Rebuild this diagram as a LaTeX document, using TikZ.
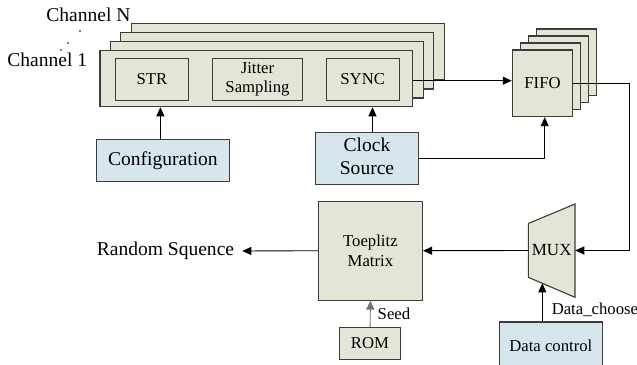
\documentclass[tikz,border=0pt]{standalone}
\usepackage{fontspec}
\setmainfont{Liberation Serif}
\usetikzlibrary{positioning,arrows.meta}
\definecolor{BlockFill}{HTML}{E3E6D6}
\definecolor{CtrlFill}{HTML}{D7E6EC}
\definecolor{EdgeGray}{HTML}{3C3C3C}

% large labels: the body size blown up
\newcommand{\bigtxt}[1]{\scalebox{1.17}{\begin{tabular}{@{}c@{}}#1\end{tabular}}}

\tikzset{
  blk/.style={draw=EdgeGray,line width=1.1pt,fill=BlockFill,inner sep=0pt,align=center,
    font=\fontsize{16.7pt}{19.5pt}\selectfont},
  ctrl/.style={blk,fill=CtrlFill},
  bigtext/.style={inner sep=0pt,font=\fontsize{16.7pt}{19.5pt}\selectfont},
  arr/.style={-{Triangle[length=9pt,width=8pt]},line width=0.9pt,black},
}

\begin{document}
\begin{tikzpicture}[x=1pt,y=-1pt]
  \useasboundingbox (0,0) rectangle (637,364);

  % channel stack, back copies first
  \foreach \k in {3,2,1}
    \node[blk,minimum width=313pt,minimum height=56.5pt] (ch\k) at ({256.3+10.5*\k},{78.7-9*\k}) {};
  \node[blk,minimum width=312.7pt,minimum height=56pt] (ch) at (256.3,78.7) {};
  \node[blk,fill=none,minimum width=72.6pt,minimum height=41.7pt] (str) at (152,79.2) {STR};
  \node[blk,fill=none,minimum width=89.6pt,minimum height=41.7pt] (jit) at (257.5,79.2) {Jitter\\Sampling};
  \node[blk,fill=none,minimum width=73.3pt,minimum height=41.7pt] (sync) at (362.7,79.2) {SYNC};

  \node[bigtext] (lblN) at (88.5,17) {\bigtxt{Channel N}};
  \node[bigtext] (lbl1) at (47.3,62) {\bigtxt{Channel 1}};
  \foreach \p in {(61,50),(68,43),(80,31)}
    \fill \p circle (0.8pt);

  % fifo stack
  \foreach \k in {3,2,1}
    \node[blk,minimum width=60.4pt,minimum height=66.7pt] (fifo\k) at ({542.5+8*\k},{83.3-7*\k}) {};
  \node[blk,minimum width=60.4pt,minimum height=66.7pt] (fifo) at (542.5,83.3) {FIFO};

  % control blocks
  \node[ctrl,minimum width=132.3pt,minimum height=42.4pt] (conf) at (162.9,160.5) {\bigtxt{Configuration}};
  \node[ctrl,minimum width=102.6pt,minimum height=52pt] (clk) at (367,158.3) {\bigtxt{Clock\\Source}};
  \node[ctrl,minimum width=103pt,minimum height=48pt] (dctl) at (550.8,346) {Data control};

  % lower path
  \node[blk,minimum width=104.2pt,minimum height=98.7pt] (toep) at (370.4,250.7) {Toeplitz\\Matrix};
  \node[blk,minimum width=61pt,minimum height=32pt] (rom) at (370,343.3) {ROM};
  \draw[draw=EdgeGray,line width=1.1pt,fill=BlockFill]
    (528.3,223.5) -- (575,204) -- (575,297.3) -- (528.3,277.3) -- cycle;
  \node[inner sep=0pt,minimum width=46.7pt,minimum height=54pt,font=\fontsize{17pt}{19.5pt}\selectfont] (mux) at (551.7,250.5) {MUX};
  \node[bigtext,anchor=east,inner xsep=8pt] (rs) at (242.3,251) {\bigtxt{Random Squence}};

  \coordinate (turn) at (629.3,83.3);
  \coordinate (muxin) at (542.3,283.3);

  % connections
  \draw[arr] ([yshift=-2pt]ch.east) -- ([yshift=-2pt]ch.east -| fifo.west);
  \draw[arr] ([xshift=-2.5pt]conf.north) -- ([xshift=-2.5pt]conf.north |- ch.south);
  \draw[arr] ([xshift=5.5pt]clk.north) -- ([xshift=5.5pt]clk.north |- ch.south);
  \draw[arr] (clk.east) -| ([xshift=2.2pt]fifo.south);
  \draw[arr] (fifo.east) -- (turn) |- (mux.east);
  \draw[arr] (mux.west) -- (toep.east);
  \draw[arr] (toep.west) -- (rs.east);
  \draw[arr,black!55] (rom) -- (toep.south)
    node[midway,right,black,font=\fontsize{16.7pt}{19.5pt}\selectfont,inner sep=0pt,xshift=7pt] {Seed};
  \draw[arr] (dctl.north -| muxin) -- (muxin)
    node[pos=0.31,anchor=west,font=\fontsize{16.7pt}{19.5pt}\selectfont,inner sep=0pt,xshift=9pt] {Data\_choose};
\end{tikzpicture}
\end{document}
